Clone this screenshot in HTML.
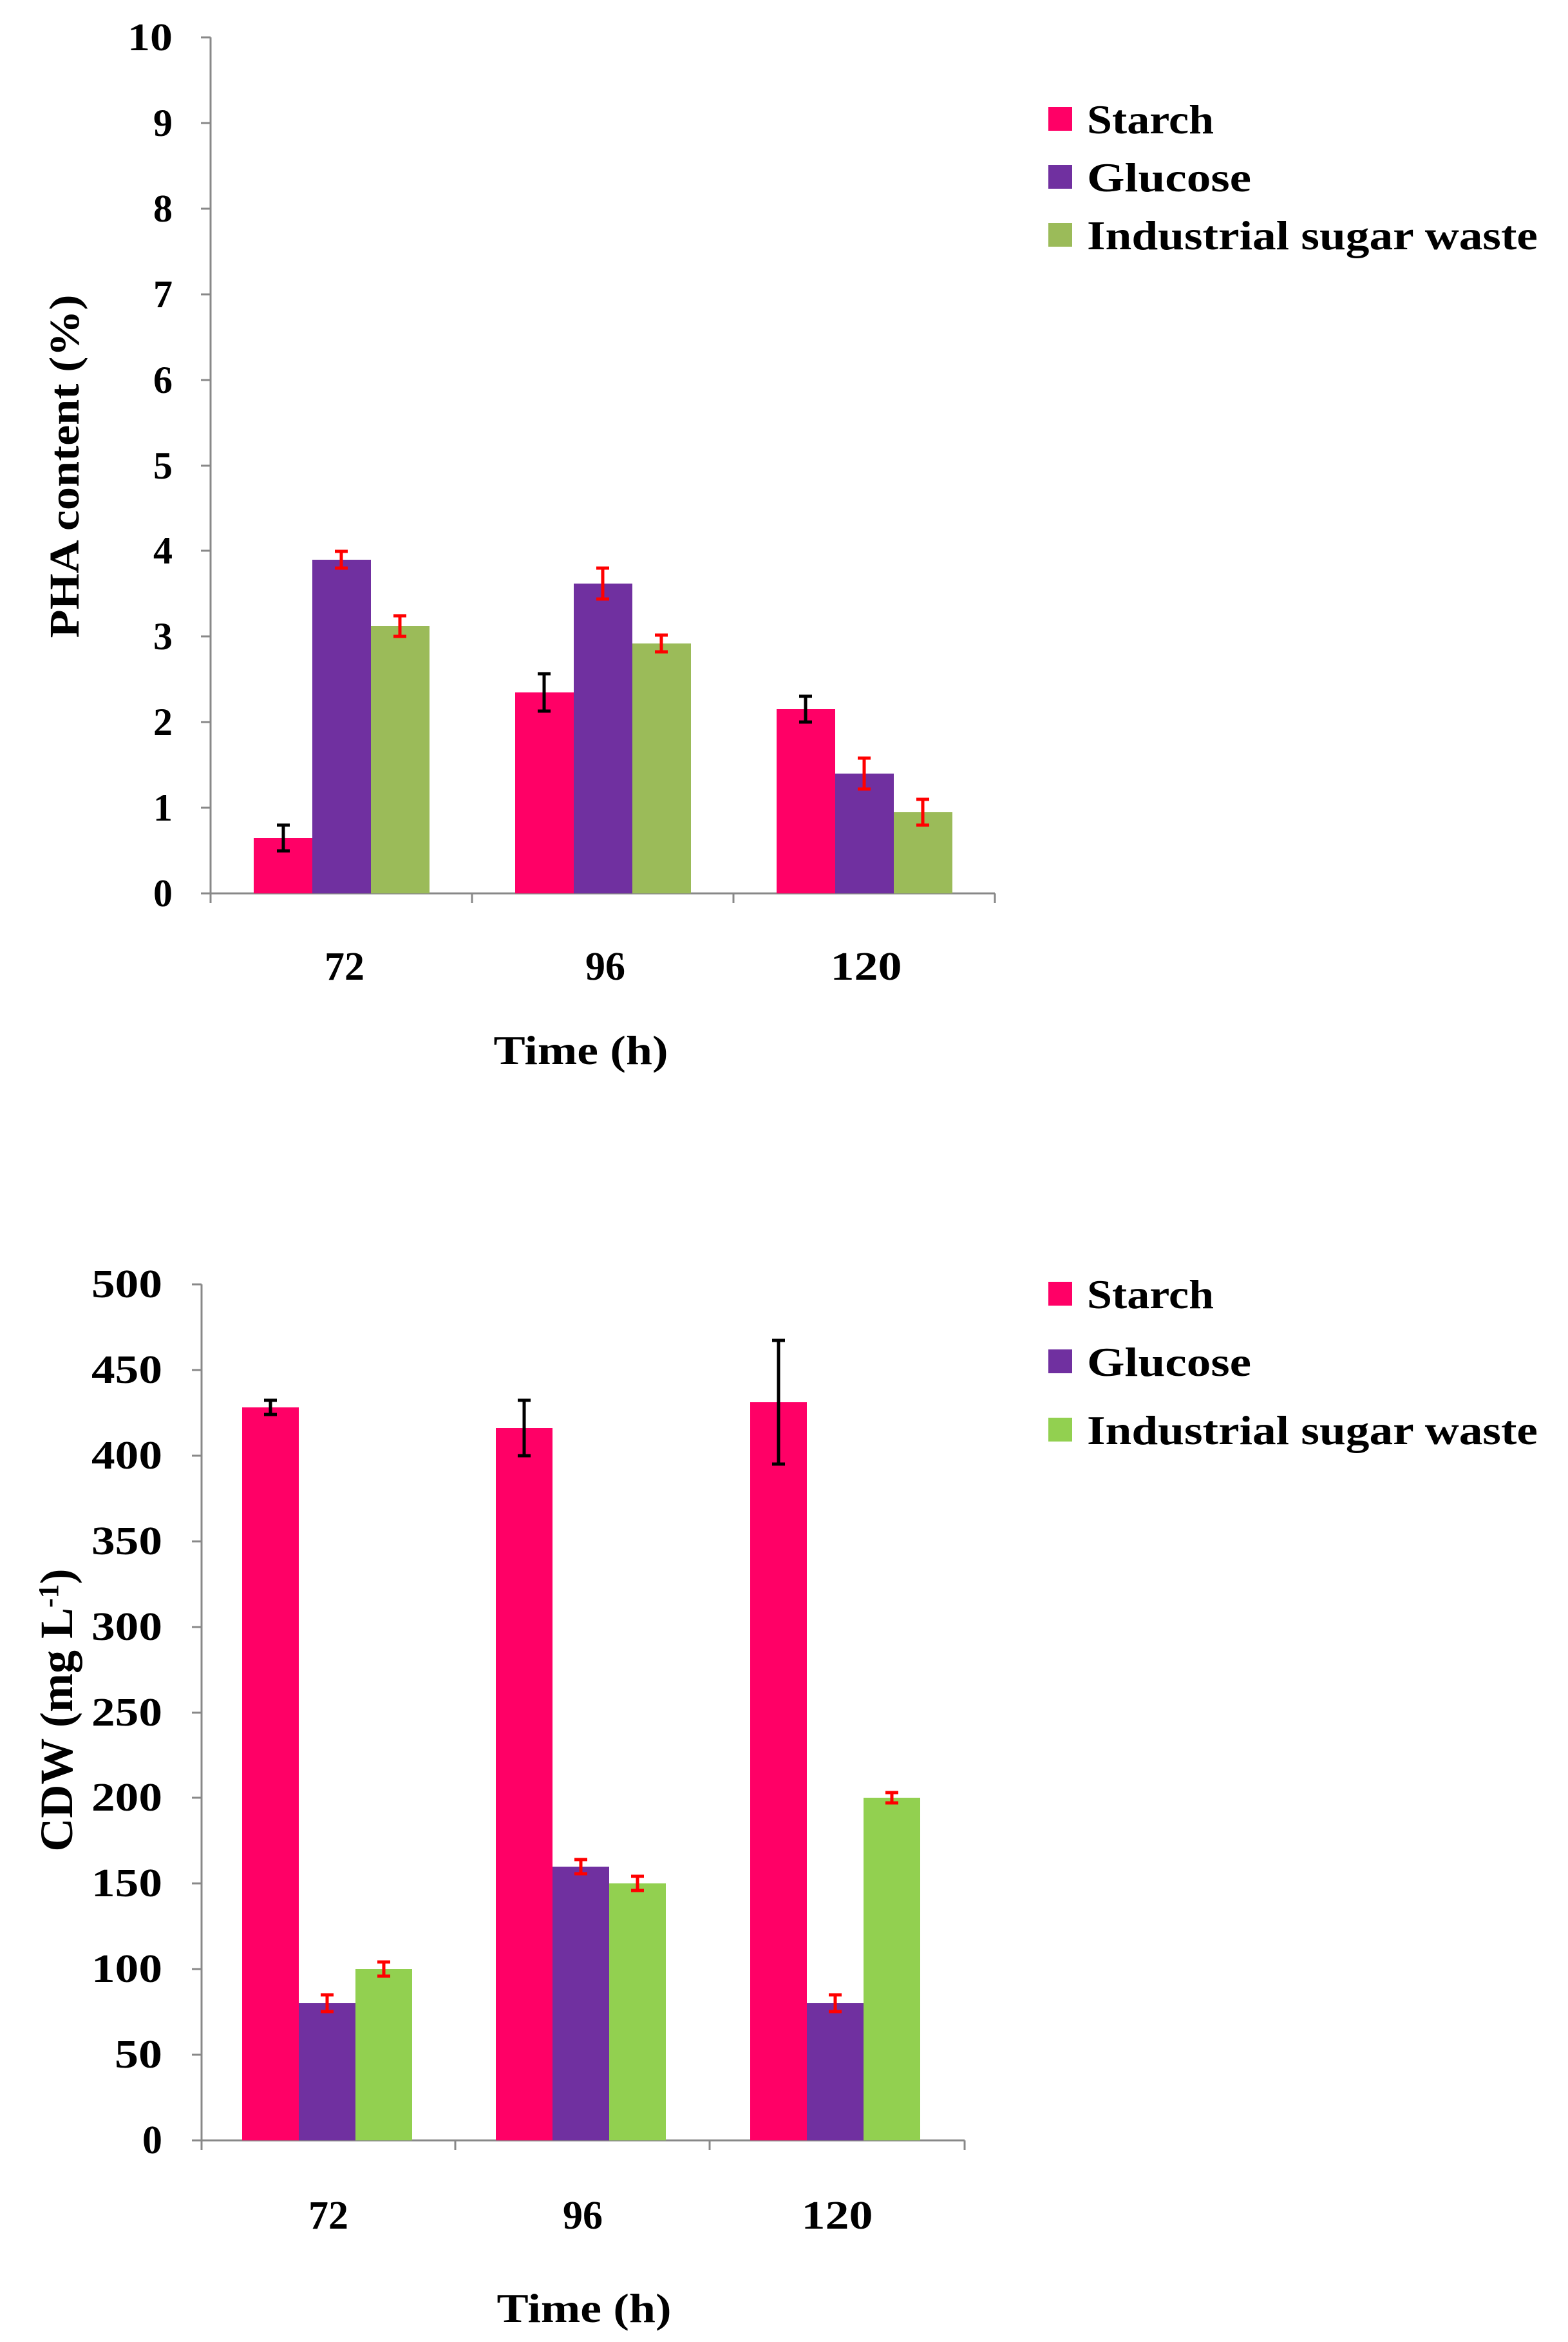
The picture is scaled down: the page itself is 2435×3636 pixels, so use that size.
<!DOCTYPE html>
<html><head><meta charset="utf-8"><style>body{margin:0;background:#fff}svg{display:block}</style></head><body>
<svg width="2435" height="3636" xmlns="http://www.w3.org/2000/svg" font-family="Liberation Serif, serif" font-weight="bold">
<rect width="2435" height="3636" fill="#fff"/>
<!-- Chart 1 -->
<g stroke="#888" stroke-width="3" fill="none">
<line x1="327" y1="58" x2="327" y2="1387"/><line x1="327" y1="1387" x2="1545" y2="1387"/>
<path d="M312 1387h15M312 1254h15M312 1121h15M312 988h15M312 855h15M312 723h15M312 590h15M312 457h15M312 324h15M312 191h15M312 58h15"/>
<path d="M327 1387v15M733 1387v15M1139 1387v15M1545 1387v15"/>
</g>
<g font-size="60" text-anchor="end" fill="#000">
<text x="268" y="1407">0</text><text x="268" y="1274">1</text><text x="268" y="1141">2</text><text x="268" y="1008">3</text><text x="268" y="875">4</text><text x="268" y="743">5</text><text x="268" y="610">6</text><text x="268" y="477">7</text><text x="268" y="344">8</text><text x="268" y="211">9</text><text x="268" y="78" textLength="70" lengthAdjust="spacingAndGlyphs">10</text>
</g>
<g font-size="62" text-anchor="middle">
<text x="535" y="1521">72</text><text x="940" y="1521">96</text><text x="1345" y="1521" textLength="111" lengthAdjust="spacingAndGlyphs">120</text>
<text x="902" y="1652" font-size="64" textLength="271" lengthAdjust="spacingAndGlyphs">Time (h)</text>
<text transform="translate(122,724) rotate(-90)" font-size="66" textLength="533" lengthAdjust="spacingAndGlyphs">PHA content (%)</text>
</g>
<rect x="394" y="1301" width="91" height="86" fill="#FF0066"/>
<rect x="485" y="869" width="91" height="518" fill="#7030A0"/>
<rect x="576" y="972" width="91" height="415" fill="#9BBB59"/>
<rect x="800" y="1075" width="91" height="312" fill="#FF0066"/>
<rect x="891" y="906" width="91" height="481" fill="#7030A0"/>
<rect x="982" y="999" width="91" height="388" fill="#9BBB59"/>
<rect x="1206" y="1101" width="91" height="286" fill="#FF0066"/>
<rect x="1297" y="1201" width="91" height="186" fill="#7030A0"/>
<rect x="1388" y="1261" width="91" height="126" fill="#9BBB59"/>
<g stroke-width="5" fill="none">
<path stroke="#000" d="M440 1281v40M430 1281h20M430 1321h20"/>
<path stroke="#f00" d="M530 856v26M520 856h20M520 882h20"/>
<path stroke="#f00" d="M621 956v32M611 956h20M611 988h20"/>
<path stroke="#000" d="M845 1046v58M835 1046h20M835 1104h20"/>
<path stroke="#f00" d="M936 882v48M926 882h20M926 930h20"/>
<path stroke="#f00" d="M1027 986v26M1017 986h20M1017 1012h20"/>
<path stroke="#000" d="M1251 1081v40M1241 1081h20M1241 1121h20"/>
<path stroke="#f00" d="M1342 1177v48M1332 1177h20M1332 1225h20"/>
<path stroke="#f00" d="M1433 1241v40M1423 1241h20M1423 1281h20"/>
</g>
<rect x="1628" y="166" width="37" height="37" fill="#FF0066"/>
<rect x="1628" y="256" width="37" height="37" fill="#7030A0"/>
<rect x="1628" y="346" width="37" height="37" fill="#9BBB59"/>
<g font-size="64">
<text x="1688" y="207" textLength="197" lengthAdjust="spacingAndGlyphs">Starch</text><text x="1688" y="297" textLength="255" lengthAdjust="spacingAndGlyphs">Glucose</text><text x="1688" y="387" textLength="700" lengthAdjust="spacingAndGlyphs">Industrial sugar waste</text>
</g>
<!-- Chart 2 -->
<g stroke="#888" stroke-width="3" fill="none">
<line x1="313" y1="1994" x2="313" y2="3323"/><line x1="313" y1="3323" x2="1498" y2="3323"/>
<path d="M298 3323h15M298 3190h15M298 3057h15M298 2924h15M298 2791h15M298 2659h15M298 2526h15M298 2393h15M298 2260h15M298 2127h15M298 1994h15"/>
<path d="M313 3323v15M707 3323v15M1102 3323v15M1498 3323v15"/>
</g>
<g font-size="62" text-anchor="end">
<text x="252" y="3343">0</text><text x="252" y="3210" textLength="74" lengthAdjust="spacingAndGlyphs">50</text><text x="252" y="3077" textLength="110" lengthAdjust="spacingAndGlyphs">100</text><text x="252" y="2944" textLength="110" lengthAdjust="spacingAndGlyphs">150</text><text x="252" y="2811" textLength="110" lengthAdjust="spacingAndGlyphs">200</text><text x="252" y="2679" textLength="110" lengthAdjust="spacingAndGlyphs">250</text><text x="252" y="2546" textLength="110" lengthAdjust="spacingAndGlyphs">300</text><text x="252" y="2413" textLength="110" lengthAdjust="spacingAndGlyphs">350</text><text x="252" y="2280" textLength="110" lengthAdjust="spacingAndGlyphs">400</text><text x="252" y="2147" textLength="110" lengthAdjust="spacingAndGlyphs">450</text><text x="252" y="2014" textLength="110" lengthAdjust="spacingAndGlyphs">500</text>
</g>
<g font-size="62" text-anchor="middle">
<text x="510" y="3460">72</text><text x="905" y="3460">96</text><text x="1300" y="3460" textLength="111" lengthAdjust="spacingAndGlyphs">120</text>
<text x="907" y="3605" font-size="64" textLength="271" lengthAdjust="spacingAndGlyphs">Time (h)</text>
<text transform="translate(112,2655) rotate(-90)" font-size="72">CDW (mg L<tspan dy="-22" font-size="44">-1</tspan><tspan dy="22">)</tspan></text>
</g>
<rect x="376" y="2185" width="88" height="1138" fill="#FF0066"/>
<rect x="464" y="3110" width="88" height="213" fill="#7030A0"/>
<rect x="552" y="3057" width="88" height="266" fill="#92D050"/>
<rect x="770" y="2217" width="88" height="1106" fill="#FF0066"/>
<rect x="858" y="2898" width="88" height="425" fill="#7030A0"/>
<rect x="946" y="2924" width="88" height="399" fill="#92D050"/>
<rect x="1165" y="2177" width="88" height="1146" fill="#FF0066"/>
<rect x="1253" y="3110" width="88" height="213" fill="#7030A0"/>
<rect x="1341" y="2791" width="88" height="532" fill="#92D050"/>
<g stroke-width="5" fill="none">
<path stroke="#000" d="M420 2174v22M410 2174h20M410 2196h20"/>
<path stroke="#f00" d="M508 3097v26M498 3097h20M498 3123h20"/>
<path stroke="#f00" d="M596 3046v22M586 3046h20M586 3068h20"/>
<path stroke="#000" d="M814 2174v86M804 2174h20M804 2260h20"/>
<path stroke="#f00" d="M902 2887v22M892 2887h20M892 2909h20"/>
<path stroke="#f00" d="M990 2913v22M980 2913h20M980 2935h20"/>
<path stroke="#000" d="M1209 2081v192M1199 2081h20M1199 2273h20"/>
<path stroke="#f00" d="M1297 3097v26M1287 3097h20M1287 3123h20"/>
<path stroke="#f00" d="M1385 2783v16M1375 2783h20M1375 2799h20"/>
</g>
<rect x="1628" y="1990" width="37" height="37" fill="#FF0066"/>
<rect x="1628" y="2095" width="37" height="37" fill="#7030A0"/>
<rect x="1628" y="2201" width="37" height="37" fill="#92D050"/>
<g font-size="64">
<text x="1688" y="2031" textLength="197" lengthAdjust="spacingAndGlyphs">Starch</text><text x="1688" y="2136" textLength="255" lengthAdjust="spacingAndGlyphs">Glucose</text><text x="1688" y="2242" textLength="700" lengthAdjust="spacingAndGlyphs">Industrial sugar waste</text>
</g>
</svg>
</body></html>
